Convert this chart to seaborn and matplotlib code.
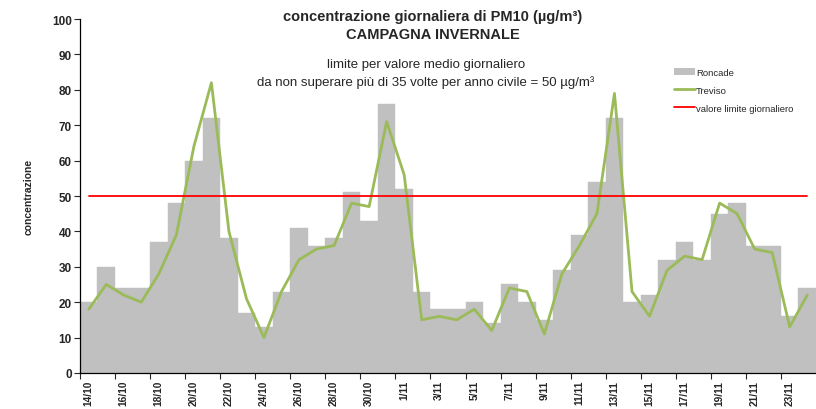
import matplotlib
matplotlib.use("Agg")
import matplotlib.pyplot as plt
from matplotlib.lines import Line2D
from matplotlib.patches import Patch
import seaborn as sns
import pandas as pd

# daily dates 14/10 -> 24/11
days = [f"{d}/10" for d in range(14, 32)] + [f"{d}/11" for d in range(1, 25)]

roncade = [20, 30, 24, 24, 37, 48, 60, 72, 38, 17, 13, 23, 41, 36, 38, 51, 43, 76,
           52, 23, 18, 18, 20, 14, 25, 20, 15, 29, 39, 54, 72, 20, 22, 32, 37, 32,
           45, 48, 36, 36, 16, 24]
treviso = [18, 25, 22, 20, 28, 39, 64, 82, 40, 21, 10, 23, 32, 35, 36, 48, 47, 71,
           56, 15, 16, 15, 18, 12, 24, 23, 11, 28, 36, 45, 79, 23, 16, 29, 33, 32,
           48, 45, 35, 34, 13, 22]
limite = 50

df = pd.DataFrame({"giorno": days, "Roncade": roncade, "Treviso": treviso})
df["pos"] = range(len(df))

sns.set_style("white")
plt.rcParams["font.family"] = ["Liberation Sans", "DejaVu Sans"]

fig = plt.figure(figsize=(8.16, 4.10), dpi=100)
ax = fig.add_axes([0.098, 0.088, 0.902, 0.863])

sns.barplot(data=df, x="giorno", y="Roncade", color="#c0c0c0", width=1.0,
            saturation=1, linewidth=0, ax=ax)
for p in ax.patches:
    p.set_edgecolor("#c0c0c0")
    p.set_linewidth(0.3)
sns.lineplot(x=df["pos"], y=df["Treviso"], color="#9bbb59", linewidth=2, ax=ax)
sns.lineplot(x=df["pos"], y=[limite] * len(df), color="#ff0000", linewidth=1.3, ax=ax)

ax.set_xlim(-0.5, len(df) - 0.5)
ax.set_ylim(0, 100)
ax.set_yticks(range(0, 101, 10))
ax.set_yticklabels([str(v) for v in range(0, 101, 10)], fontsize=8.5, fontweight="bold")
ax.set_xticks(range(0, len(df), 2))
ax.set_xticklabels(days[::2], rotation=90, fontsize=7.3, fontweight="bold")
ax.set_xticks([i - 0.5 for i in range(0, len(df), 2)], minor=True)
ax.tick_params(axis="x", which="major", length=0, pad=5)
ax.tick_params(axis="x", which="minor", length=4, width=0.8, direction="out", bottom=True)
ax.tick_params(axis="y", length=4, width=0.8, direction="out", left=True, pad=2)
ax.set_xlabel("")
ax.set_ylabel("concentrazione", fontsize=7.5, fontweight="bold", labelpad=13)

for s in ["top", "right"]:
    ax.spines[s].set_visible(False)
for s in ["left", "bottom"]:
    ax.spines[s].set_color("black")
    ax.spines[s].set_linewidth(0.9)

fig.text(0.53, 0.975, "concentrazione giornaliera di PM10 (µg/m³)", ha="center", va="top",
         fontsize=10.5, fontweight="bold")
fig.text(0.53, 0.932, "CAMPAGNA INVERNALE", ha="center", va="top",
         fontsize=10.5, fontweight="bold")
fig.text(0.522, 0.855, "limite per valore medio giornaliero", ha="center", va="top", fontsize=9.5)
fig.text(0.522, 0.815, "da non superare più di 35 volte per anno civile = 50 µg/m³",
         ha="center", va="top", fontsize=9.5)

handles = [Patch(facecolor="#c0c0c0", edgecolor="none", label="Roncade"),
           Line2D([0], [0], color="#9bbb59", lw=2, label="Treviso"),
           Line2D([0], [0], color="#ff0000", lw=1.3, label="valore limite giornaliero")]
fig.legend(handles=handles, loc="upper left", bbox_to_anchor=(0.815, 0.853), frameon=False,
           fontsize=6.8, handlelength=2.3, handletextpad=0.1, labelspacing=0.95)

fig.savefig("out.png", dpi=100)
